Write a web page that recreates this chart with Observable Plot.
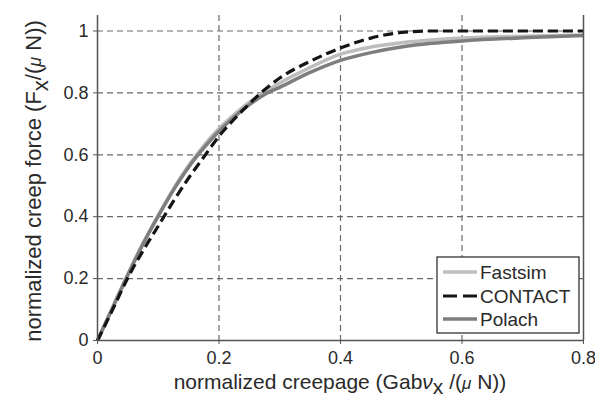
<!DOCTYPE html>
<html>
<head>
<meta charset="utf-8">
<script src="https://cdn.jsdelivr.net/npm/d3@7"></script>
<script src="https://cdn.jsdelivr.net/npm/@observablehq/plot@0.6"></script>
<style>
  html, body { margin: 0; padding: 0; background: #fff; }
  #chart { width: 595px; height: 400px; }
</style>
</head>
<body>
<div id="chart"></div>
<script>
// ---- data ----
const creepage = [0, 0.025, 0.05, 0.075, 0.1, 0.125, 0.15, 0.175, 0.2, 0.225, 0.25, 0.275, 0.3, 0.35, 0.4, 0.45, 0.5, 0.55, 0.6, 0.7, 0.8];
const fastsim  = [0, 0.108, 0.215, 0.315, 0.405, 0.49, 0.565, 0.63, 0.685, 0.73, 0.77, 0.803, 0.832, 0.882, 0.925, 0.948, 0.962, 0.971, 0.977, 0.983, 0.987];
const polach   = [0, 0.106, 0.212, 0.312, 0.402, 0.486, 0.56, 0.622, 0.676, 0.722, 0.762, 0.795, 0.818, 0.866, 0.905, 0.93, 0.948, 0.96, 0.968, 0.978, 0.985];
const contact  = [0, 0.1, 0.203, 0.29, 0.37, 0.45, 0.525, 0.593, 0.66, 0.715, 0.765, 0.81, 0.848, 0.902, 0.945, 0.977, 0.995, 1, 1, 1, 1];

const seriesNames = ["Fastsim", "CONTACT", "Polach"];
const xTicks = [0, 0.2, 0.4, 0.6, 0.8];
const yTicks = [0, 0.2, 0.4, 0.6, 0.8, 1];
const xLabel = ["normalized creepage (Gab", "ν", "x", " /(", "μ", " N))"];
const yLabel = ["normalized creep force (F", "x", "/(", "μ", " N))"];

// ---- styles ----
const styles = {
  Fastsim: {stroke: "#bdbdbd", strokeWidth: 3.5, dash: null},
  CONTACT: {stroke: "#151515", strokeWidth: 3.2, dash: "10,5"},
  Polach:  {stroke: "#7e7e7e", strokeWidth: 3.5, dash: null}
};
const valuesBy = {Fastsim: fastsim, CONTACT: contact, Polach: polach};
const rows = seriesNames.flatMap(s => creepage.map((c, i) => ({x: c, y: valuesBy[s][i], series: s})));

const fmt = d => String(d);
const gridStyle = {stroke: "#6a6a6a", strokeOpacity: 1, strokeWidth: 1.2, strokeDasharray: "6,4"};
const frameStyle = {stroke: "#555", strokeWidth: 1.5};

const drawOrder = ["Fastsim", "Polach", "CONTACT"];

const svg = Plot.plot({
  width: 595,
  height: 400,
  marginLeft: 97,
  marginRight: 12,
  marginTop: 15,
  marginBottom: 60,
  style: {fontFamily: "'Liberation Sans', Arial, Helvetica, sans-serif", fontSize: "18px", color: "#2a2a2a", background: "#fff"},
  x: {domain: [0, 0.8], label: null},
  y: {domain: [0, 1.05], label: null},
  marks: [
    Plot.gridX(xTicks.filter(d => d > 0 && d < 0.8), gridStyle),
    Plot.gridY(yTicks.filter(d => d > 0), gridStyle),
    ...drawOrder.map(s => Plot.line(rows.filter(r => r.series === s), {
      x: "x", y: "y", curve: "monotone-x",
      stroke: styles[s].stroke, strokeWidth: styles[s].strokeWidth,
      strokeDasharray: styles[s].dash, strokeLinecap: "butt"
    })),
    Plot.ruleX([0, 0.8], frameStyle),
    Plot.ruleY([0], frameStyle),
    Plot.axisX(xTicks, {tickSize: 4, tickPadding: 7, tickFormat: fmt, label: null, stroke: "#555", fontSize: 18}),
    Plot.axisY(yTicks, {tickSize: 4, tickPadding: 5, tickFormat: fmt, label: null, stroke: "#555", fontSize: 18})
  ]
});

document.getElementById("chart").appendChild(svg);

// ---- axis titles with subscripts / greek ----
const root = d3.select(svg);
const fontFam = "'Liberation Sans', Arial, Helvetica, sans-serif";

const xt = root.append("text")
  .attr("x", 340).attr("y", 389)
  .attr("text-anchor", "middle")
  .attr("font-family", fontFam).attr("font-size", 21).attr("fill", "#2a2a2a");
xt.append("tspan").text(xLabel[0]);
xt.append("tspan").attr("font-style", "italic").text(xLabel[1]);
xt.append("tspan").attr("dy", "0.25em").text(xLabel[2]);
xt.append("tspan").attr("dy", "-0.25em").text(xLabel[3]);
xt.append("tspan").attr("font-style", "italic").attr("font-size", 17).text(xLabel[4]);
xt.append("tspan").text(xLabel[5]);

const yt = root.append("text")
  .attr("transform", "translate(41,181) rotate(-90)")
  .attr("text-anchor", "middle")
  .attr("font-family", fontFam).attr("font-size", 22).attr("fill", "#2a2a2a");
yt.append("tspan").text(yLabel[0]);
yt.append("tspan").attr("dy", "0.3em").text(yLabel[1]);
yt.append("tspan").attr("dy", "-0.3em").text(yLabel[2]);
yt.append("tspan").attr("font-style", "italic").attr("font-size", 18).text(yLabel[3]);
yt.append("tspan").text(yLabel[4]);

// ---- legend box ----
const lg = root.append("g").attr("font-family", fontFam).attr("font-size", 19)
  .attr("fill", "#2a2a2a").attr("text-anchor", "start");
lg.append("rect").attr("x", 437).attr("y", 257).attr("width", 142).attr("height", 76)
  .attr("fill", "#fff").attr("stroke", "#333").attr("stroke-width", 1.3);
const rowY = [272, 296, 319];
seriesNames.forEach((s, i) => {
  lg.append("line").attr("x1", 443).attr("x2", 477).attr("y1", rowY[i]).attr("y2", rowY[i])
    .attr("stroke", styles[s].stroke).attr("stroke-width", styles[s].strokeWidth)
    .attr("stroke-dasharray", styles[s].dash ? "14,6" : null);
  lg.append("text").attr("x", 480).attr("y", rowY[i]).attr("dy", "0.36em")
    .attr("text-anchor", "start").text(s);
});
</script>
</body>
</html>
